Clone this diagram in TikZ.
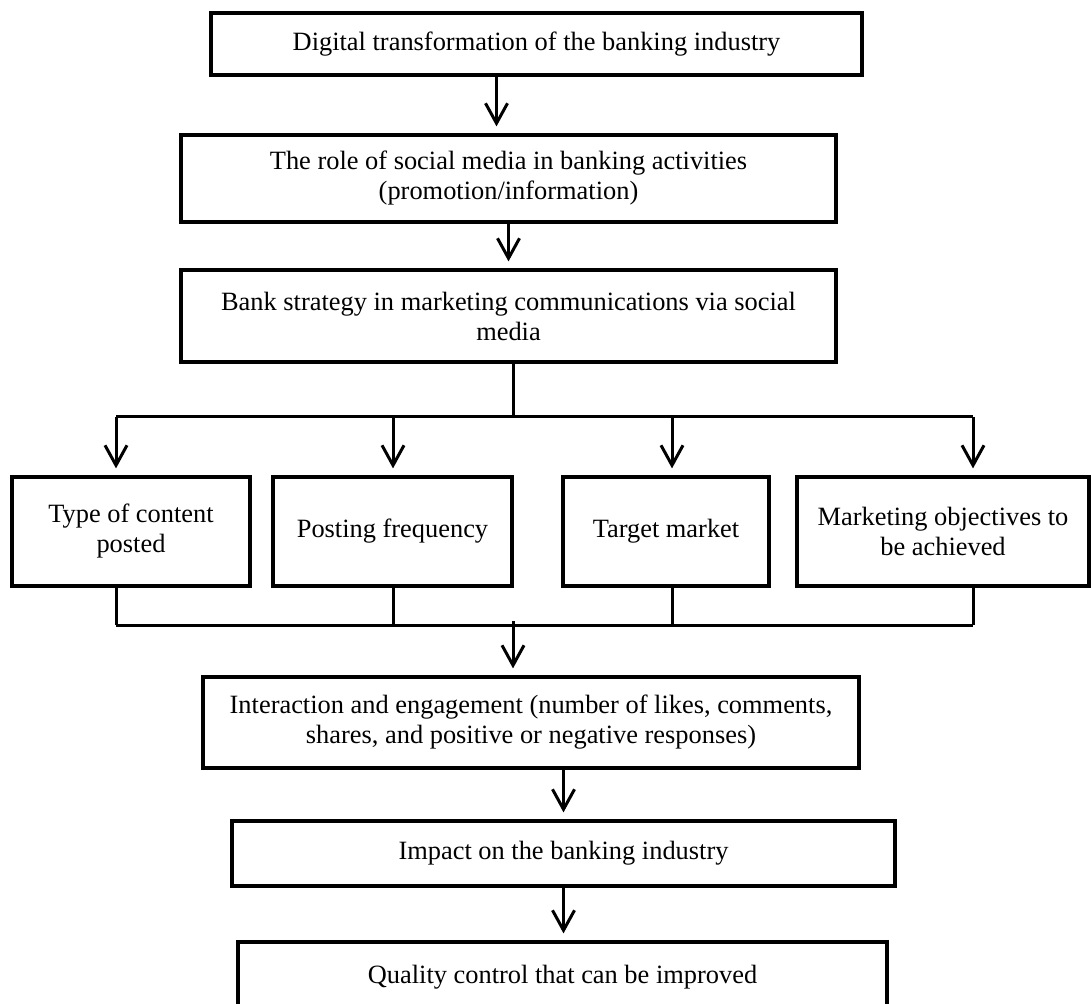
\documentclass[tikz,border=0pt]{standalone}
\usepackage{fontspec}
\setmainfont{Liberation Serif}
\usetikzlibrary{positioning, calc, arrows.meta}

\begin{document}
\begin{tikzpicture}[x=0.5pt, y=-0.5pt,
  box/.style={draw, line width=1.6pt, align=center, inner sep=0pt,
    font=\fontsize{13.2}{15}\selectfont},
  link/.style={line width=1.5pt},
  arr/.style={link, ->, shorten >=3.5pt},
  >={Straight Barb[length=10pt,width=11pt]}]
  \clip (0,0) rectangle (1091,1004);

  % Top chain
  \node[box, minimum width=325.5pt, minimum height=31pt] (digital) at (536.5,44)
    {Digital transformation of the banking industry};
  \node[box, minimum width=327.5pt, minimum height=43.5pt] (role) at (508.5,178.5)
    {The role of social media in banking activities\\(promotion/information)};
  \node[box, minimum width=327.5pt, minimum height=46pt] (strategy) at (508.5,316)
    {Bank strategy in marketing communications via social\\media};

  % Four aspects
  \node[box, minimum width=119pt, minimum height=54.5pt] (content) at (131,531.5)
    {Type of content\\posted};
  \node[box, minimum width=119.5pt, minimum height=54.5pt] (freq) at (392.5,531.5)
    {Posting frequency};
  \node[box, minimum width=103pt, minimum height=54.5pt] (target) at (666,531.5)
    {Target market};
  \node[box, minimum width=146pt, minimum height=54.5pt] (goals) at (943,531.5)
    {Marketing objectives to\\be achieved};

  % Bottom chain
  \node[box, minimum width=328pt, minimum height=45.5pt] (engage) at (531,722.5)
    {Interaction and engagement (number of likes, comments,\\shares, and positive or negative responses)};
  \node[box, minimum width=331.5pt, minimum height=32.5pt] (impact) at (563.5,853.5)
    {Impact on the banking industry};
  \node[box, minimum width=324.5pt, minimum height=35pt] (quality) at (562.5,977)
    {Quality control that can be improved};

  % Arrows between main boxes
  \draw[arr] ($(digital.south)+(-40,0)$) coordinate (d1) -- (d1 |- role.north);
  \draw[arr] (role.south) -- (strategy.north);

  % Split bus
  \coordinate (s1) at (116,417);
  \coordinate (s2) at (393,417);
  \coordinate (s3) at (672,417);
  \coordinate (s4) at (973,417);
  \draw[link] (strategy.south -| 513,0) -- (513,417);
  \draw[link] (s1) -- (s4);
  \draw[arr] (s1) -- (s1 |- content.north);
  \draw[arr] (s2) -- (s2 |- freq.north);
  \draw[arr] (s3) -- (s3 |- target.north);
  \draw[arr] (s4) -- (s4 |- goals.north);

  % Merge bus
  \coordinate (m1) at (116,625);
  \coordinate (m2) at (393,625);
  \coordinate (m3) at (672,625);
  \coordinate (m4) at (973,625);
  \draw[link] (content.south -| m1) -- (m1);
  \draw[link] (freq.south -| m2) -- (m2);
  \draw[link] (target.south -| m3) -- (m3);
  \draw[link] (goals.south -| m4) -- (m4);
  \draw[link] (m1) -- (m4);
  \coordinate (merge) at (513,621);
  \draw[arr] (merge) -- (merge |- engage.north);

  \draw[arr] (engage.south -| impact.north) -- (impact.north);
  \draw[arr] (impact.south) -- (impact.south |- quality.north);
\end{tikzpicture}
\end{document}
